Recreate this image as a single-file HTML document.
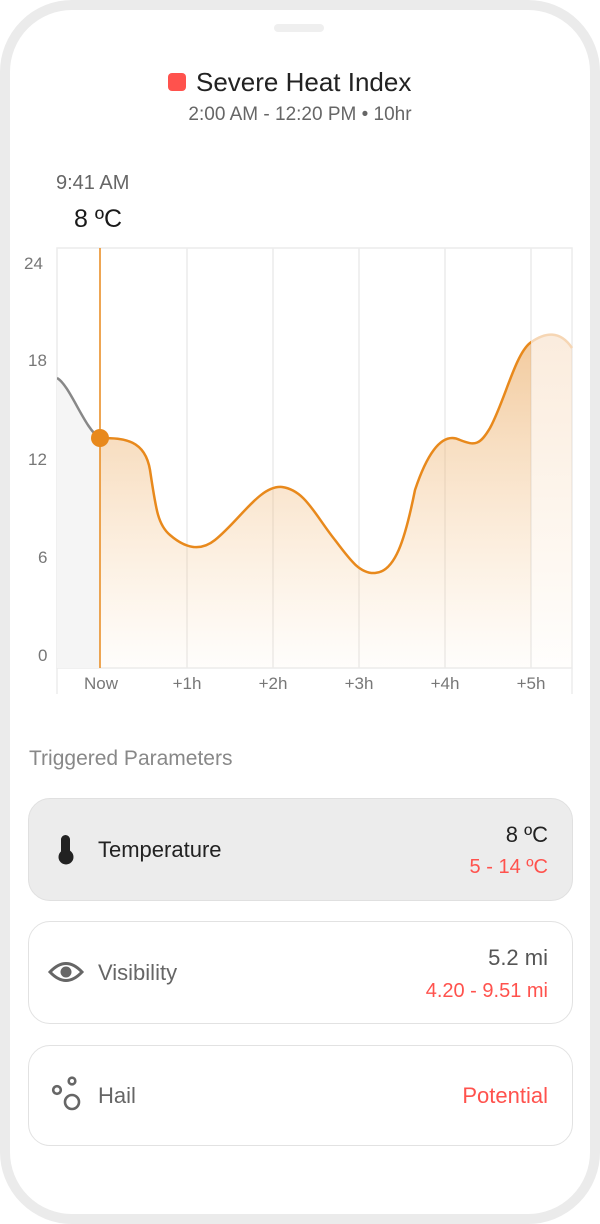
<!DOCTYPE html>
<html><head><meta charset="utf-8"><style>
body{margin:0;width:600px;height:1224px;background:#fff;font-family:"Liberation Sans",sans-serif;position:relative;overflow:hidden}
.frame{position:absolute;left:0;top:0;width:580px;height:1204px;border:10px solid #ebebeb;border-radius:72px}
.notch{position:absolute;top:24px;width:50px;height:8px;border-radius:4px;background:#efefef;left:274px}
.t{position:absolute;white-space:nowrap}
.card{position:absolute;left:28px;width:543px;border:1.5px solid #e2e2e2;border-radius:22px;background:#fff}
</style></head><body>
<div class="frame"></div>
<div class="notch"></div>
<div class="t" style="left:168px;top:73px;width:18px;height:18px;background:#ff524d;border-radius:4px"></div>
<div class="t" style="left:196px;top:67px;font-size:26px;color:#222">Severe Heat Index</div>
<div class="t" style="left:0;width:600px;text-align:center;top:104px;font-size:19px;color:#666">2:00 AM - 12:20 PM • 10hr</div>
<div class="t" style="left:56px;top:172px;font-size:20px;color:#666">9:41 AM</div>
<div class="t" style="left:74px;top:205px;font-size:25px;color:#1a1a1a;font-weight:500">8 ºC</div>
<svg class="t" style="left:0;top:0" width="600" height="720">
<defs>
<linearGradient id="g" x1="0" x2="0" y1="340" y2="668" gradientUnits="userSpaceOnUse">
<stop offset="0" stop-color="#e8a050" stop-opacity="0.55"/><stop offset="1" stop-color="#f5c080" stop-opacity="0.03"/></linearGradient>
<linearGradient id="g2" x1="0" x2="0" y1="340" y2="668" gradientUnits="userSpaceOnUse">
<stop offset="0" stop-color="#f0c090" stop-opacity="0.3"/><stop offset="1" stop-color="#f5c080" stop-opacity="0.02"/></linearGradient>
<clipPath id="c1"><rect x="100" y="240" width="431" height="430"/></clipPath>
<clipPath id="c2"><rect x="531" y="240" width="45" height="430"/></clipPath>
<clipPath id="c0"><rect x="57" y="240" width="43" height="430"/></clipPath>
</defs>
<rect x="57" y="248" width="515" height="420" fill="none" stroke="#ececec" stroke-width="1.5"/>
<g stroke="#ececec" stroke-width="1.5">
<line x1="187" y1="248" x2="187" y2="668"/><line x1="273" y1="248" x2="273" y2="668"/><line x1="359" y1="248" x2="359" y2="668"/><line x1="445" y1="248" x2="445" y2="668"/><line x1="531" y1="248" x2="531" y2="668"/>
<line x1="57" y1="668" x2="57" y2="694"/><line x1="572" y1="668" x2="572" y2="694"/>
</g>
<path d="M57,378 C70,385 85,430 100,438 C125,438 145,440 150,470 C156,510 158,525 170,535 C185,548 200,552 215,540 C240,520 260,485 282,487 C305,490 315,515 335,540 C350,560 360,574 375,573 C395,572 405,540 415,490 C425,460 440,430 460,440 C475,446 480,445 490,428 C505,400 515,355 530,343 C545,332 560,330 572,348 L572,668 L57,668 Z" fill="url(#g)" clip-path="url(#c1)"/>
<path d="M57,378 C70,385 85,430 100,438 L100,668 L57,668 Z" fill="#f5f5f5"/>
<path d="M57,378 C70,385 85,430 100,438 C125,438 145,440 150,470 C156,510 158,525 170,535 C185,548 200,552 215,540 C240,520 260,485 282,487 C305,490 315,515 335,540 C350,560 360,574 375,573 C395,572 405,540 415,490 C425,460 440,430 460,440 C475,446 480,445 490,428 C505,400 515,355 530,343 C545,332 560,330 572,348 L572,668 L57,668 Z" fill="url(#g2)" clip-path="url(#c2)"/>
<g fill="none" stroke-width="2.5">
<path d="M57,378 C70,385 85,430 100,438" stroke="#888" clip-path="url(#c0)"/>
<path d="M57,378 C70,385 85,430 100,438 C125,438 145,440 150,470 C156,510 158,525 170,535 C185,548 200,552 215,540 C240,520 260,485 282,487 C305,490 315,515 335,540 C350,560 360,574 375,573 C395,572 405,540 415,490 C425,460 440,430 460,440 C475,446 480,445 490,428 C505,400 515,355 530,343 C545,332 560,330 572,348" stroke="#e8891c" clip-path="url(#c1)"/>
<path d="M490,428 C505,400 515,355 530,343 C545,332 560,330 572,348" stroke="#f6d6b4" clip-path="url(#c2)"/>
</g>
<line x1="100" y1="248" x2="100" y2="668" stroke="#e8891c" stroke-width="1.5"/>
<circle cx="100" cy="438" r="9" fill="#e8891c"/>
<g font-size="17" fill="#777" font-family="Liberation Sans">
<text x="24" y="269">24</text><text x="28" y="366">18</text><text x="28" y="465">12</text><text x="38" y="563">6</text><text x="38" y="661">0</text>
<g text-anchor="middle"><text x="101" y="689">Now</text><text x="187" y="689">+1h</text><text x="273" y="689">+2h</text><text x="359" y="689">+3h</text><text x="445" y="689">+4h</text><text x="531" y="689">+5h</text></g>
</g>
</svg>
<div class="t" style="left:29px;top:747px;font-size:21px;color:#888">Triggered Parameters</div>
<div class="card" style="top:798px;height:101px;background:#ececec;border-color:#e0e0e0"></div>
<div class="card" style="top:921px;height:101px"></div>
<div class="card" style="top:1045px;height:99px"></div>
<svg class="t" style="left:0;top:780px" width="120" height="360">
<rect x="61" y="55" width="9" height="22" rx="4.5" fill="#222"/><circle cx="66" cy="77" r="7.5" fill="#222"/>
<path d="M50,192 Q66,175 82,192 Q66,209 50,192 Z" fill="none" stroke="#666" stroke-width="3"/><circle cx="66" cy="192" r="5.5" fill="#666"/>
<g fill="none" stroke="#666" stroke-width="2.6"><circle cx="57" cy="310" r="3.8"/><circle cx="72" cy="301" r="3.3"/><circle cx="72" cy="322" r="7"/></g>
</svg>
<div class="t" style="left:98px;top:837px;font-size:22px;color:#222">Temperature</div>
<div class="t" style="left:98px;top:960px;font-size:22px;color:#666">Visibility</div>
<div class="t" style="left:98px;top:1083px;font-size:22px;color:#666">Hail</div>
<div class="t" style="right:52px;top:822px;font-size:22px;color:#222">8 ºC</div>
<div class="t" style="right:52px;top:856px;font-size:20px;color:#ff524d">5 - 14 ºC</div>
<div class="t" style="right:52px;top:945px;font-size:22px;color:#555">5.2 mi</div>
<div class="t" style="right:52px;top:980px;font-size:20px;color:#ff524d">4.20 - 9.51 mi</div>
<div class="t" style="right:52px;top:1083px;font-size:22px;color:#ff524d">Potential</div>
</body></html>
